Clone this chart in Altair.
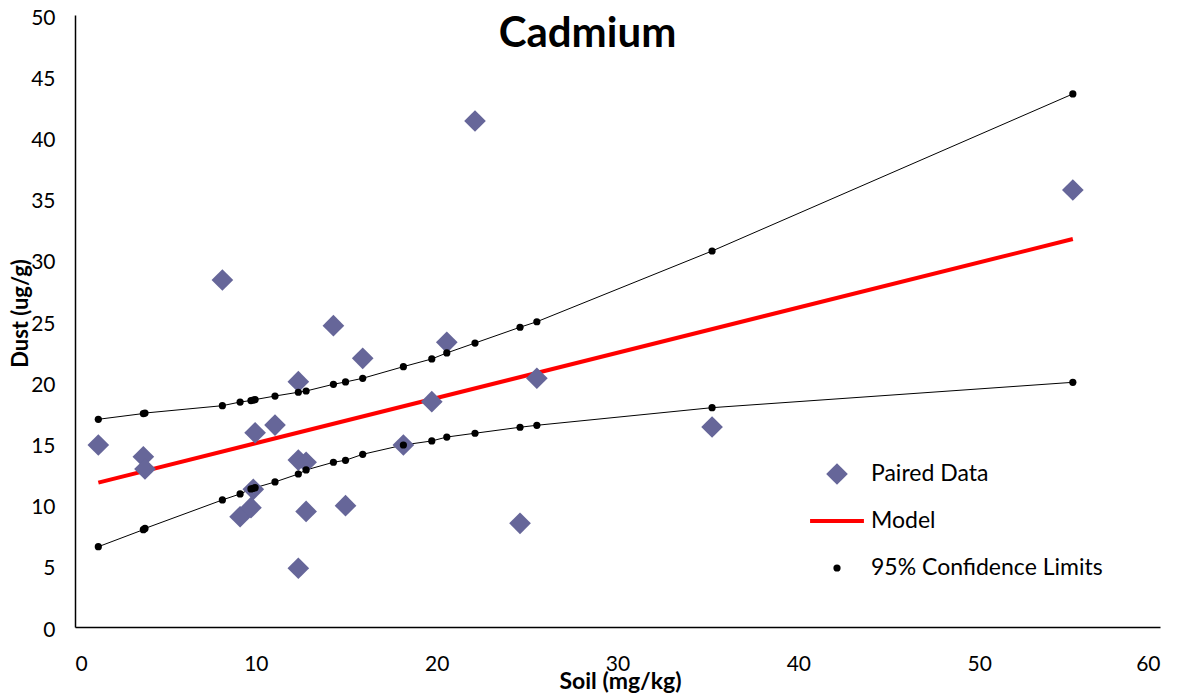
import altair as alt
import pandas as pd

# Paired soil / dust cadmium measurements
soil = [1.29, 3.78, 3.87, 8.15, 9.13, 9.73, 9.86, 9.96, 11.06, 12.35, 12.35, 12.78,
        12.78, 12.35, 14.29, 14.96, 15.91, 18.16, 19.73, 20.56, 22.12, 24.61, 25.54,
        35.23, 55.18]
dust = [14.87, 13.91, 12.91, 28.35, 9.01, 9.75, 11.25, 15.87, 16.50, 20.04, 13.64, 13.46,
        9.44, 4.80, 24.62, 9.91, 21.95, 14.87, 18.41, 23.26, 41.34, 8.47, 20.32,
        16.34, 35.70]

# 95% confidence limits evaluated at the observed soil values
limit_x = [1.29, 3.78, 3.87, 8.15, 9.13, 9.73, 9.86, 9.96, 11.06, 12.35, 12.78, 14.29,
           14.96, 15.91, 18.16, 19.73, 20.56, 22.12, 24.61, 25.54, 35.23, 55.18]
upper = [16.97, 17.44, 17.48, 18.08, 18.38, 18.50, 18.54, 18.58, 18.87, 19.18, 19.28, 19.83,
         20.02, 20.32, 21.27, 21.90, 22.39, 23.20, 24.49, 24.94, 30.72, 43.55]
lower = [6.56, 7.95, 8.05, 10.38, 10.87, 11.28, 11.33, 11.38, 11.85, 12.50, 12.83, 13.46,
         13.62, 14.11, 14.87, 15.20, 15.52, 15.83, 16.32, 16.48, 17.92, 19.99]

# Fitted regression line
model_x = [1.29, 55.18]
model_y = [11.8, 31.7]

x_ticks = [0, 10, 20, 30, 40, 50, 60]
y_ticks = [0, 5, 10, 15, 20, 25, 30, 35, 40, 45, 50]

series = ["Paired Data", "Model", "95% Confidence Limits"]
FONT = "Lato"

paired = pd.DataFrame({"x": soil, "y": dust, "series": "Paired Data"})
limits = pd.concat([
    pd.DataFrame({"x": limit_x, "y": upper, "bound": "upper"}),
    pd.DataFrame({"x": limit_x, "y": lower, "bound": "lower"}),
], ignore_index=True)
limits["series"] = "95% Confidence Limits"
model = pd.DataFrame({"x": model_x, "y": model_y, "series": "Model"})

points = pd.concat([paired, limits[["x", "y", "series"]]], ignore_index=True)

x_enc = alt.X(
    "x:Q",
    scale=alt.Scale(domain=[0, 60], nice=False, zero=False),
    axis=alt.Axis(values=x_ticks, title="Soil (mg/kg)", titleX=545, titleY=61,
                  titleBaseline="alphabetic", titleFontSize=23),
)
y_enc = alt.Y(
    "y:Q",
    scale=alt.Scale(domain=[0, 50], nice=False),
    axis=alt.Axis(values=y_ticks, title="Dust (ug/g)", titleX=-48, titleY=298,
                  titleBaseline="alphabetic", titleFontSize=22, labelOffset=3),
)

model_line = alt.Chart(model).mark_line(color="#ff0000", strokeWidth=4).encode(
    x=x_enc, y=y_enc
)

limit_lines = alt.Chart(limits).mark_line(color="#000000", strokeWidth=1).encode(
    x=x_enc, y=y_enc, detail="bound:N"
)

legend = alt.Legend(
    title=None, orient="none", legendX=733, legendY=436,
    labelFont=FONT, labelFontSize=23, labelColor="#000000", labelOffset=5,
    labelLimit=400, padding=0, rowPadding=1, symbolOffset=0,
    clipHeight=46, gridAlign="all",
)

pts = alt.Chart(points).mark_point(filled=True, opacity=1).encode(
    x=x_enc,
    y=y_enc,
    color=alt.Color("series:N", scale=alt.Scale(domain=series,
                                                range=["#666699", "#ff0000", "#000000"]),
                    legend=legend),
    stroke=alt.Stroke("series:N", scale=alt.Scale(domain=series,
                                                  range=["#666699", "#ff0000", "#000000"]),
                      legend=legend),
    shape=alt.Shape("series:N", scale=alt.Scale(domain=series,
                                                range=["diamond", "stroke", "circle"]),
                    legend=legend),
    size=alt.Size("series:N", scale=alt.Scale(type="ordinal", domain=series,
                                              range=[470, 2900, 52]),
                  legend=legend),
    strokeWidth=alt.StrokeWidth("series:N", scale=alt.Scale(type="ordinal", domain=series,
                                                            range=[0, 4, 0]),
                                legend=legend),
)

chart = alt.layer(model_line, limit_lines, pts).properties(
    width=1085,
    height=612,
    autosize=alt.AutoSizeParams(type="none"),
    padding={"left": 75, "top": 15, "right": 26, "bottom": 72},
    title=alt.TitleParams("Cadmium", font=FONT, fontSize=42, fontWeight="bold",
                          color="#000000", anchor="middle", baseline="alphabetic",
                          offset=0, dx=-30, dy=82),
).configure_view(stroke=None).configure_axis(
    grid=False, ticks=False, domainColor="#000000", domainWidth=1.5,
    labelFont=FONT, labelFontSize=21, labelColor="#000000", labelPadding=20,
    titleFont=FONT, titleFontWeight="bold", titleColor="#000000",
).configure_axisX(labelPadding=26)

chart.save("out.html", embed_options={"renderer": "svg", "actions": False})
